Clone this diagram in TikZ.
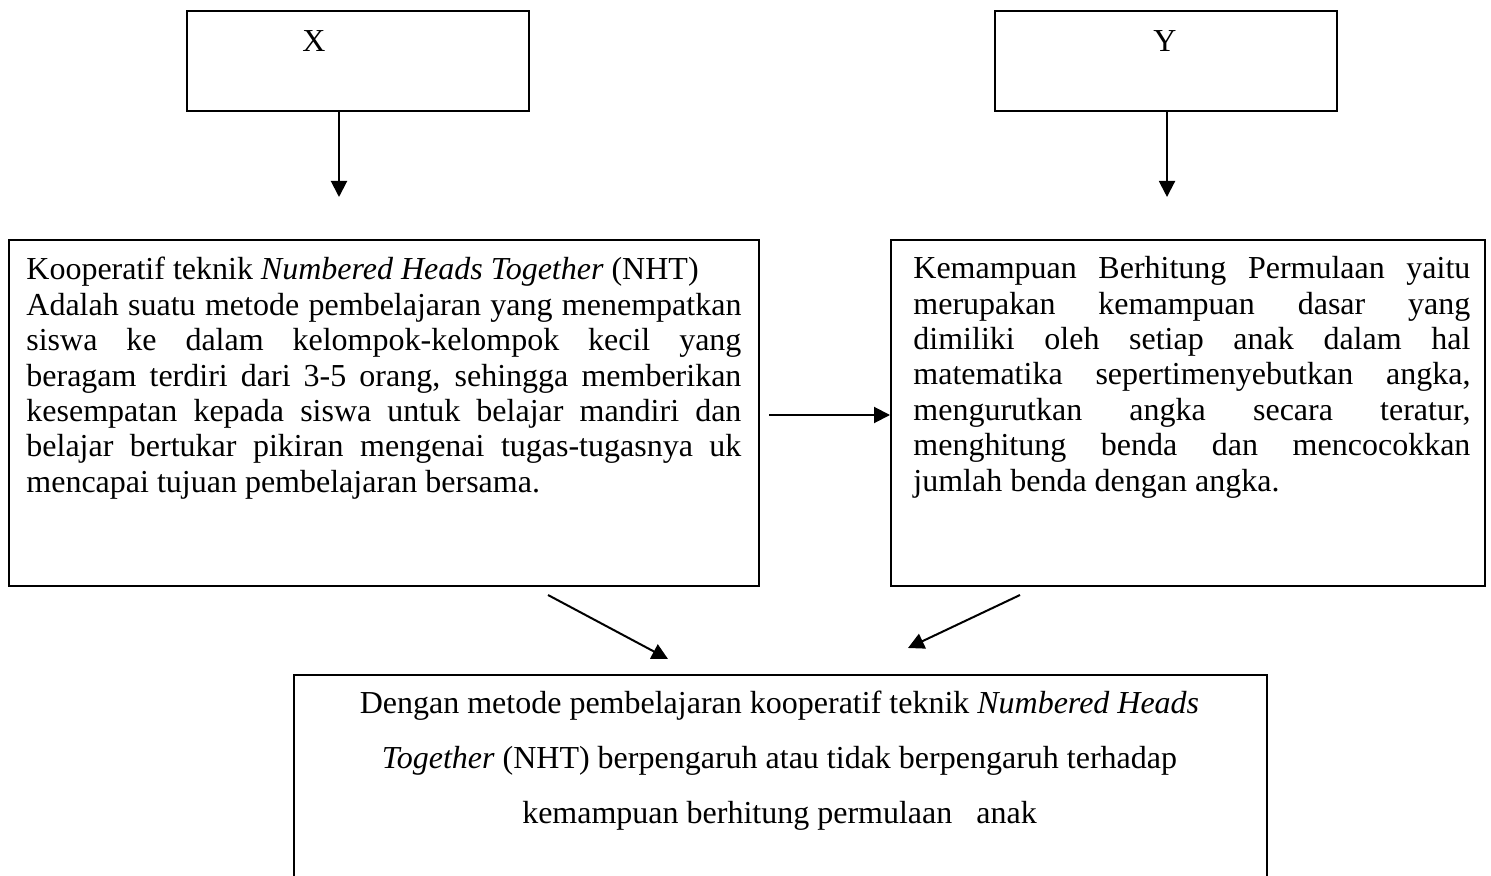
\documentclass[tikz,border=0pt]{standalone}
\usepackage{fontspec}
\setmainfont{Liberation Serif}
\usetikzlibrary{arrows.meta}

\begin{document}
\begin{tikzpicture}[
        x=0.5pt, y=-0.5pt,
        kotak/.style={draw, line width=1pt, inner sep=0pt, anchor=north west},
        teks/.style={inner sep=0pt, font=\fontsize{16pt}{17.7pt}\selectfont},
        panah/.style={line width=1pt, -{Triangle[length=8pt,width=8pt]}}
      ]
        % 画布
        \useasboundingbox (0,0) rectangle (1491,876);
        % 上方两个框
        \node[kotak, minimum width=171pt, minimum height=50pt] (X) at (186,10) {};
        \node[kotak, minimum width=171pt, minimum height=50pt] (Y) at (994,10) {};
        \node[teks, anchor=base] (labelX) at (314,52) {X};
        \node[teks, anchor=base] (labelY) at (1165,52) {Y};
        % 中间两个框
        \node[kotak, minimum width=375pt, minimum height=173pt] (kiri) at (8,239) {};
        \node[kotak, minimum width=297pt, minimum height=173pt] (kanan) at (890,239) {};
        \node[teks, text width=357.5pt, align=justify, anchor=north west] (teksKiri) at (26,257)
          {Kooperatif teknik \textit{Numbered Heads Together} (NHT)\\
           Adalah suatu metode pembelajaran yang menempatkan\linebreak
           siswa ke dalam kelompok-kelompok kecil yang\linebreak
           beragam terdiri dari 3-5 orang, sehingga memberikan\linebreak
           kesempatan kepada siswa untuk belajar mandiri dan\linebreak
           belajar bertukar pikiran mengenai tugas-tugasnya uk\linebreak
           mencapai tujuan pembelajaran bersama.};
        \node[teks, text width=278.5pt, align=justify, anchor=north west] (teksKanan) at (913,256)
          {Kemampuan Berhitung Permulaan yaitu\linebreak
           merupakan kemampuan dasar yang\linebreak
           dimiliki oleh setiap anak dalam hal\linebreak
           matematika sepertimenyebutkan angka,\linebreak
           mengurutkan angka secara teratur,\linebreak
           menghitung benda dan mencocokkan\linebreak
           jumlah benda dengan angka.};
        % 下方框（底边在画面外）
        \node[kotak, minimum width=486.5pt, minimum height=115pt] (bawah) at (293,674) {};
        \node[teks, align=center, anchor=north, font=\fontsize{16pt}{27.5pt}\selectfont] (teksBawah) at (779.5,691)
          {Dengan metode pembelajaran kooperatif teknik \textit{Numbered Heads}\\
           \textit{Together} (NHT) berpengaruh atau tidak berpengaruh terhadap\\
           kemampuan berhitung permulaan \ \ anak};
        % 箭头端点
        \coordinate (ujungX) at (339,197);
        \coordinate (ujungY) at (1167,197);
        \coordinate (awalH) at (769,415);
        \coordinate (awalKi) at (548,595);
        \coordinate (ujungKi) at (668,659);
        \coordinate (awalKa) at (1020,595);
        \coordinate (ujungKa) at (908,648);
        % 绘制箭头
        \draw[panah] (ujungX |- X.south) -- (ujungX);
        \draw[panah] (ujungY |- Y.south) -- (ujungY);
        \draw[panah] (awalH) -- (awalH -| kanan.west);
        \draw[panah] (awalKi) -- (ujungKi);
        \draw[panah] (awalKa) -- (ujungKa);
      \end{tikzpicture}
\end{document}
